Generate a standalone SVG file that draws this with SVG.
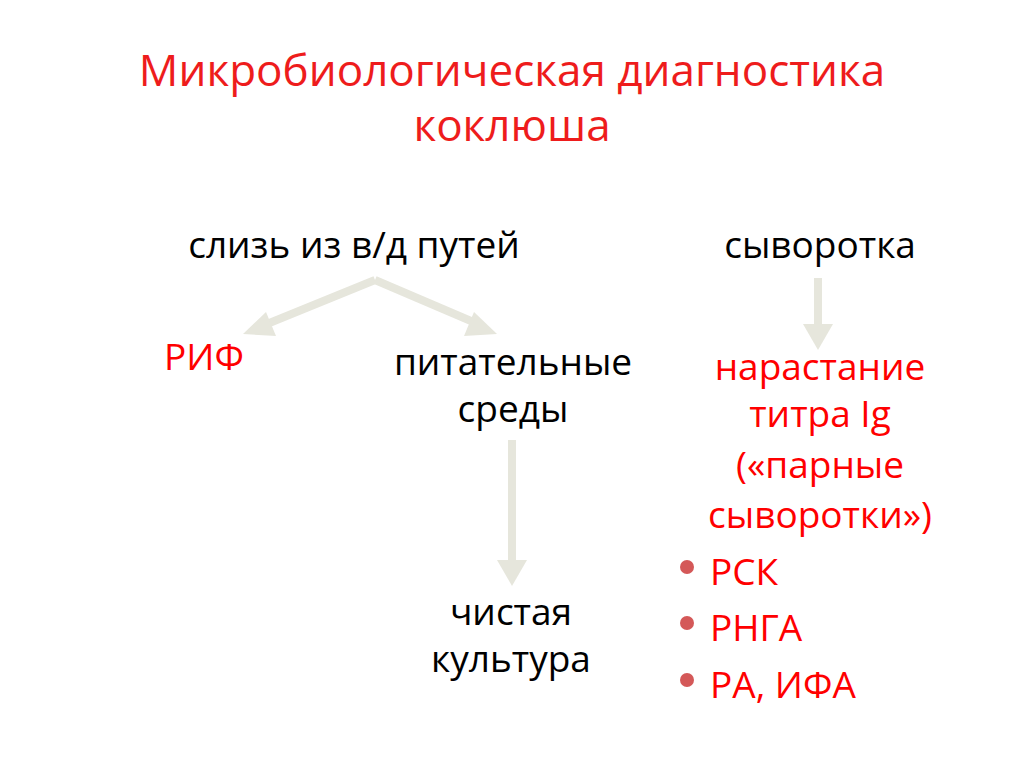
<svg xmlns="http://www.w3.org/2000/svg" width="1024" height="767" viewBox="0 0 1024 767">
<style>
text{font-family:"Open Sans","Liberation Sans",sans-serif;}
.t{font-size:44px;fill:#ee1c1c;text-anchor:middle}
.b{font-size:37px;fill:#000;text-anchor:middle}
.r{font-size:37px;fill:#ff0000;text-anchor:middle}
.rl{font-size:37px;fill:#ff0000}
.ar{stroke:#e6e6dc;stroke-width:8;fill:none}
.ah{fill:#e6e6dc}
.dot{fill:#d45858}
</style>
<rect width="1024" height="767" fill="#fff"/>
<g id="title">
<text class="t" x="512" y="86">Микробиологическая диагностика</text>
<text class="t" x="512" y="141">коклюша</text>
</g>
<g id="connectors">
<path class="ar" d="M375,280 L262,326"/>
<polygon class="ah" points="243,334 266,312 276,336"/>
<path class="ar" d="M375,280 L478,324"/>
<polygon class="ah" points="497,334 474,312 464,336"/>
<path class="ar" d="M512,440 L512,560"/>
<polygon class="ah" points="497,560 527,560 512,586"/>
<path class="ar" d="M818,278 L818,325"/>
<polygon class="ah" points="803,324 833,324 818,350"/>
</g>
<g id="n-sliz"><text class="b" x="354" y="258">слизь из в/д путей</text></g>
<g id="n-syv"><text class="b" x="820" y="258">сыворотка</text></g>
<g id="n-rif"><text class="r" x="204" y="370">РИФ</text></g>
<g id="n-pit"><text class="b" x="513" y="375">питательные</text><text class="b" x="513" y="422">среды</text></g>
<g id="n-chist"><text class="b" x="511" y="625">чистая</text><text class="b" x="511" y="672">культура</text></g>
<g id="n-nar">
<text class="r" x="820" y="380">нарастание</text>
<text class="r" x="820" y="427">титра Ig</text>
<text class="r" x="820" y="478">(«парные</text>
<text class="r" x="820" y="528">сыворотки»)</text>
</g>
<g id="n-list">
<circle class="dot" cx="687" cy="567" r="7"/><text class="rl" x="710" y="585">РСК</text>
<circle class="dot" cx="687" cy="623" r="7"/><text class="rl" x="710" y="641">РНГА</text>
<circle class="dot" cx="687" cy="680" r="7"/><text class="rl" x="710" y="698">РА, ИФА</text>
</g>
</svg>
